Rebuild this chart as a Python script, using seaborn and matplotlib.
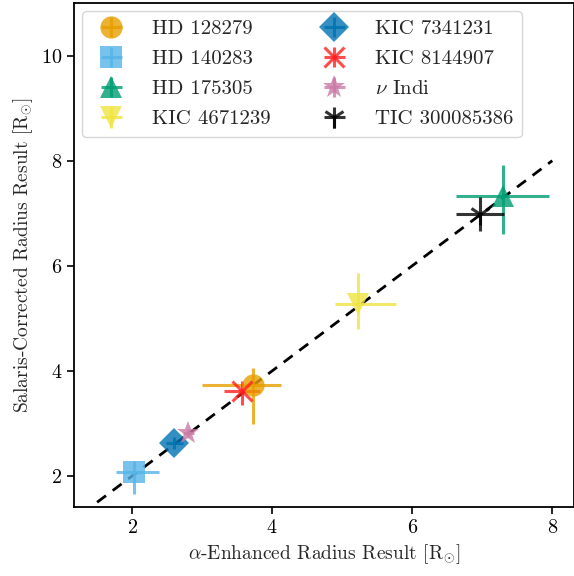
import numpy as np
import pandas as pd
import matplotlib
matplotlib.use("Agg")
import matplotlib.pyplot as plt
import seaborn as sns

stars = ["HD 128279", "HD 140283", "HD 175305", "KIC 4671239",
         "KIC 7341231", "KIC 8144907", r"$\nu$ Indi", "TIC 300085386"]
alpha_r = [3.73, 2.03, 7.29, 5.23, 2.60, 3.57, 2.80, 6.97]
alpha_err_lo = [0.73, 0.26, 0.66, 0.34, 0.12, 0.26, 0.08, 0.34]
alpha_err_hi = [0.40, 0.36, 0.66, 0.54, 0.12, 0.26, 0.08, 0.34]
salaris_r = [3.73, 2.08, 7.32, 5.27, 2.63, 3.62, 2.82, 6.98]
salaris_err_lo = [0.74, 0.42, 0.72, 0.48, 0.12, 0.27, 0.08, 0.32]
salaris_err_hi = [0.32, 0.20, 0.60, 0.59, 0.12, 0.19, 0.08, 0.32]
colors = ["#E69F00", "#56B4E9", "#009E73", "#F0E442",
          "#0072B2", "#FF1F1F", "#CC79A7", "#000000"]
markers = ["o", "s", "^", "v", "D", "x", "*", "1"]
line_x = [1.5, 8.0]

sns.set_theme(style="ticks")
plt.rcParams.update({
    "font.family": "serif",
    "font.serif": ["cmr10", "DejaVu Serif"],
    "mathtext.fontset": "cm",
    "axes.formatter.use_mathtext": True,
    "axes.unicode_minus": False,
})

fig = plt.figure(figsize=(5.74, 5.76), dpi=100)
ax = fig.add_axes([74/574, 1 - 507/576, 500/574, 504/576])

df_line = pd.DataFrame({"x": line_x, "y": line_x})
sns.lineplot(data=df_line, x="x", y="y", ax=ax, color="black",
             linestyle=(0, (4, 3)), linewidth=2, zorder=1)

sizes = {"o": 16, "s": 16, "^": 16, "v": 16, "D": 15, "x": 15, "*": 17, "1": 16}
for i, s in enumerate(stars):
    m = markers[i]
    mew = 2.2 if m in ("x", "1") else 0
    ax.errorbar(alpha_r[i], salaris_r[i],
                xerr=[[alpha_err_lo[i]], [alpha_err_hi[i]]],
                yerr=[[salaris_err_lo[i]], [salaris_err_hi[i]]],
                fmt=m, color=colors[i], ms=sizes[m], mew=mew,
                elinewidth=2.2, capsize=0, alpha=0.8, label=s, zorder=2)

ax.set_xlim(1.17, 8.31)
ax.set_ylim(1.41, 11.0)
ax.set_xticks([2, 4, 6, 8])
ax.set_yticks([2, 4, 6, 8, 10])
ax.tick_params(labelsize=14.5, direction="out", length=5, width=1.2, colors="black")
for sp in ax.spines.values():
    sp.set_color("black")
    sp.set_linewidth(1.3)
ax.set_xlabel(r"$\alpha$-Enhanced Radius Result [R$_{\odot}$]", fontsize=14)
ax.set_ylabel(r"Salaris-Corrected Radius Result [R$_{\odot}$]", fontsize=14)
ax.legend(loc="upper left", ncol=2, fontsize=15, frameon=True,
          columnspacing=2.05, handletextpad=0.95, borderpad=0.4,
          labelspacing=0.55, borderaxespad=0.4)

fig.savefig("out.png", dpi=100)
